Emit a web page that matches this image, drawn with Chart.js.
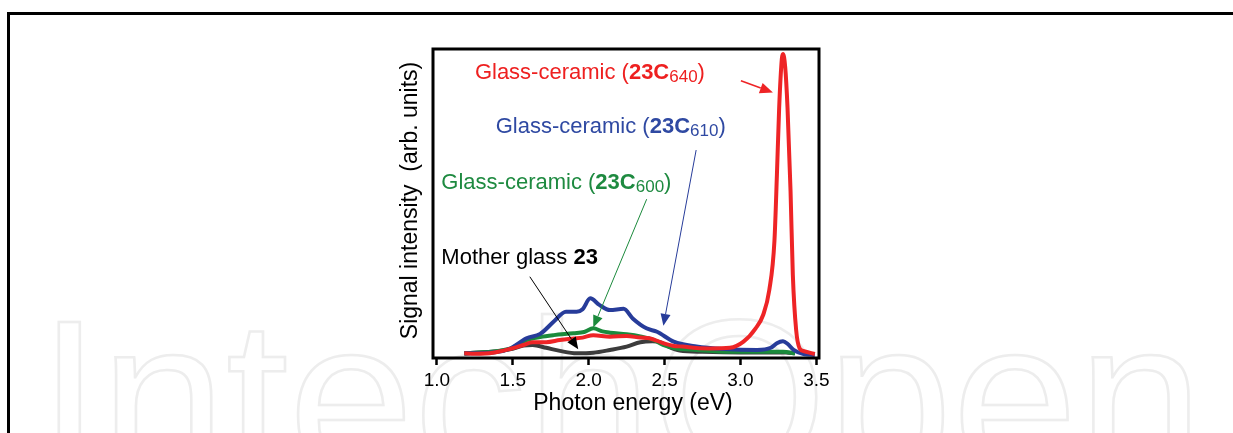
<!DOCTYPE html>
<html>
<head>
<meta charset="utf-8">
<script src="https://cdn.jsdelivr.net/npm/chart.js@4.4.1/dist/chart.umd.min.js"></script>
<style>
  html, body { margin: 0; padding: 0; background: #fff; }
  #wrap { position: relative; width: 1233px; height: 433px; overflow: hidden; }
  #frame { position: absolute; left: 7px; top: 12px; right: -10px; bottom: -10px;
           border-top: 3px solid #000; border-left: 3px solid #000; pointer-events: none; }
  canvas { position: absolute; left: 0; top: 0; }
</style>
</head>
<body>
<div id="wrap">
  <canvas id="chart" width="1233" height="433"></canvas>
  <div id="frame"></div>
</div>
<script>
// ── Spectra (photon energy in eV, intensity in arb. units 0..100) ──
const X_TICKS = [1.0, 1.5, 2.0, 2.5, 3.0, 3.5];

const redE = [1.18, 1.25, 1.37, 1.48, 1.57, 1.63, 1.72, 1.81, 1.90, 1.96, 2.03, 2.14, 2.25, 2.34, 2.40,
              2.49, 2.56, 2.62, 2.71, 2.80, 2.93, 3.02, 3.10, 3.15, 3.19, 3.224, 3.24, 3.255, 3.273,
              3.28, 3.295, 3.31, 3.33, 3.345, 3.367, 3.39, 3.42, 3.49];
const redI = [1.5, 1.4, 1.7, 2.9, 4.2, 5.1, 5.1, 5.8, 6.3, 6.6, 7.4, 6.9, 7.1, 6.6, 6.4,
              4.8, 3.9, 3.7, 3.2, 3.1, 3.3, 5.3, 9.6, 14, 22, 38, 59, 81, 97,
              98.4, 94, 81, 54, 27, 9, 3.1, 2.2, 1.3];

const blueE = [1.18, 1.37, 1.48, 1.59, 1.68, 1.77, 1.85, 1.92, 1.96, 2.01, 2.07, 2.14, 2.23, 2.29,
               2.38, 2.45, 2.56, 2.71, 2.89, 3.11, 3.20, 3.24, 3.28, 3.31, 3.35, 3.42, 3.49];
const blueI = [1.5, 1.8, 3.0, 6.4, 7.8, 11.8, 15, 15, 15.8, 19.3, 17.2, 15.5, 15.9, 12.8,
               9.6, 8.5, 5.3, 3.7, 2.9, 2.6, 3.3, 4.8, 5.4, 4.6, 2.6, 1.2, 1.0];

const greenE = [1.18, 1.48, 1.59, 1.68, 1.77, 1.90, 1.97, 2.03, 2.09, 2.14, 2.25, 2.34, 2.43, 2.49,
                2.56, 2.71, 2.93, 3.15, 3.28, 3.36];
const greenI = [1.5, 3.0, 5.8, 6.8, 7.4, 8.0, 8.4, 9.6, 8.6, 8.2, 7.7, 7.0, 5.8, 4.2,
                3.2, 2.6, 2.0, 2.0, 2.0, 1.5];

const blackE = [1.18, 1.48, 1.57, 1.63, 1.72, 1.81, 1.92, 2.03, 2.14, 2.25, 2.34, 2.42, 2.48, 2.53,
                2.60, 2.75, 3.00, 3.30, 3.36];
const blackI = [1.4, 2.8, 4.0, 4.2, 3.3, 2.3, 1.5, 1.7, 2.6, 3.7, 5.1, 5.4, 5.0, 3.6,
                2.4, 2.0, 1.8, 1.8, 1.5];

const RED = '#ee2426', BLUE = '#273c9a', GREEN = '#1b8a3c', BLACK = '#3c3c3c';
const FONT = '"Liberation Sans", Arial, sans-serif';

// annotation texts: [plain, bold, subscript, closing]
const LABELS = [
  { parts: ['Glass-ceramic (', '23C', '640', ')'], color: '#ee2020', at: [1.25, 90.2] },
  { parts: ['Glass-ceramic (', '23C', '610', ')'], color: '#2f49a2', at: [1.387, 72.9] },
  { parts: ['Glass-ceramic (', '23C', '600', ')'], color: '#1e8a40', at: [1.029, 54.7] },
  { parts: ['Mother glass ', '23', '', ''],         color: '#000',    at: [1.029, 30.4] }
];
// arrows: from -> to (tip), in data units
const ARROWS = [
  { from: [3.003, 89.7], to: [3.214, 85.9], color: RED,   w: 1.6, head: 13 },
  { from: [2.708, 67.3], to: [2.492, 10.4], color: BLUE,  w: 1,   head: 12 },
  { from: [2.382, 51.4], to: [2.030, 9.9],  color: GREEN, w: 1,   head: 12 },
  { from: [1.612, 26.3], to: [1.931, 2.8],  color: '#000', w: 1,  head: 12 }
];

const pts = (xs, ys) => xs.map((x, i) => ({ x, y: ys[i] }));

function series(label, xs, ys, color) {
  return {
    label, data: pts(xs, ys),
    borderColor: color, borderWidth: 4,
    pointRadius: 0, fill: false,
    cubicInterpolationMode: 'monotone'
  };
}

// ── watermark behind everything ──
const watermark = {
  id: 'watermark',
  beforeDraw(chart) {
    const c = chart.ctx;
    c.save();
    c.font = '220px ' + FONT;
    const w = c.measureText('IntechOpen').width;
    c.translate(38, 474);
    c.scale(1165 / w, 1);
    c.strokeStyle = '#ededed';
    c.lineWidth = 2.5;
    c.strokeText('IntechOpen', 0, 0);
    c.restore();
  }
};

function drawArrow(c, x1, y1, x2, y2, color, w, head) {
  const a = Math.atan2(y2 - y1, x2 - x1);
  const bx = x2 - head * Math.cos(a), by = y2 - head * Math.sin(a);
  c.strokeStyle = color; c.fillStyle = color; c.lineWidth = w;
  c.beginPath(); c.moveTo(x1, y1); c.lineTo(bx, by); c.stroke();
  const hw = head * 0.42;
  c.beginPath();
  c.moveTo(x2, y2);
  c.lineTo(bx + hw * Math.sin(a), by - hw * Math.cos(a));
  c.lineTo(bx - hw * Math.sin(a), by + hw * Math.cos(a));
  c.closePath(); c.fill();
}

// ── frame, axis titles, labels, arrows ──
const overlay = {
  id: 'overlay',
  afterDatasetsDraw(chart) {
    const c = chart.ctx, xs = chart.scales.x, ys = chart.scales.y;
    const { left, right, top, bottom } = chart.chartArea;
    c.save();

    // plot box
    c.strokeStyle = '#000'; c.lineWidth = 3;
    c.strokeRect(left, top, right - left, bottom - top);

    // labels
    c.textAlign = 'left'; c.textBaseline = 'alphabetic';
    LABELS.forEach(l => {
      let x = xs.getPixelForValue(l.at[0]);
      const y = ys.getPixelForValue(l.at[1]);
      c.fillStyle = l.color;
      l.parts.forEach((t, i) => {
        if (!t) return;
        const sub = i === 2;
        c.font = (i === 1 ? 'bold ' : '') + (sub ? 17 : 22) + 'px ' + FONT;
        c.fillText(t, x, y + (sub ? 3 : 0));
        x += c.measureText(t).width;
      });
    });

    // arrows
    ARROWS.forEach(a => drawArrow(c,
      xs.getPixelForValue(a.from[0]), ys.getPixelForValue(a.from[1]),
      xs.getPixelForValue(a.to[0]), ys.getPixelForValue(a.to[1]),
      a.color, a.w, a.head));

    // axis titles
    c.fillStyle = '#000';
    c.font = '23px ' + FONT;
    c.textAlign = 'center';
    c.fillText('Photon energy (eV)', (left + right) / 2 + 7, 410);
    c.translate(417, (top + bottom) / 2 - 3);
    c.rotate(-Math.PI / 2);
    c.fillText('Signal intensity  (arb. units)', 0, 0);
    c.restore();
  }
};

new Chart(document.getElementById('chart'), {
  type: 'line',
  data: {
    datasets: [
      series('Glass-ceramic (23C640)', redE, redI, RED),
      series('Glass-ceramic (23C610)', blueE, blueI, BLUE),
      series('Glass-ceramic (23C600)', greenE, greenI, GREEN),
      series('Mother glass 23', blackE, blackI, BLACK)
    ]
  },
  options: {
    responsive: false,
    animation: false,
    devicePixelRatio: 1,
    layout: { padding: { left: 433, right: 414, top: 49, bottom: 0 } },
    plugins: { legend: { display: false }, tooltip: { enabled: false } },
    scales: {
      x: {
        type: 'linear',
        min: 0.974, max: 3.5175,
        afterFit: s => { s.height = 75; },
        afterBuildTicks: s => { s.ticks = X_TICKS.map(v => ({ value: v })); },
        border: { display: false },
        grid: { display: true, drawOnChartArea: false, drawTicks: true,
                tickLength: 7, tickWidth: 2.5, tickColor: '#000' },
        ticks: { color: '#000', padding: 4, maxRotation: 0,
                 font: { family: FONT, size: 19 },
                 callback: v => Number(v).toFixed(1) }
      },
      y: {
        display: false,
        min: 0, max: 100
      }
    }
  },
  plugins: [watermark, overlay]
});
</script>
</body>
</html>
